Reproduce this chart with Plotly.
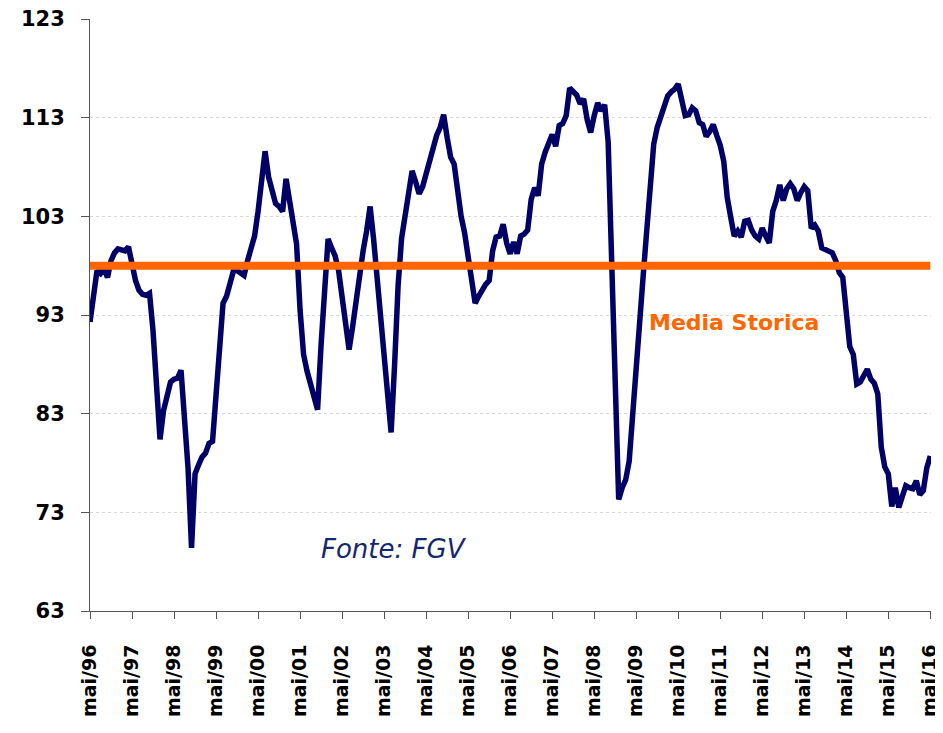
import plotly.graph_objects as go

# Monthly index values, May/1996 .. May/2016
confidence = [
    92.3, 95.0, 97.5, 97.2, 97.7, 96.8, 98.5, 99.3, 99.7, 99.6, 99.5, 99.9,
    98.1, 96.5, 95.5, 95.1, 95.0, 95.2, 91.4, 86.3, 80.4, 83.3, 85.0, 86.2,
    86.5, 86.6, 87.4, 82.5, 77.5, 69.4, 76.9, 77.8, 78.6, 79.0, 80.0, 80.2,
    85.5, 90.5, 94.2, 94.9, 96.0, 97.5, 97.5, 97.2, 97.0, 98.5, 100.0, 101.0,
    103.5, 106.5, 109.6, 107.0, 105.5, 104.3, 104.0, 103.5, 106.8, 104.5, 102.5, 100.2,
    93.5, 89.0, 87.3, 86.0, 84.7, 83.4, 90.0, 96.5, 100.7, 99.8, 99.0, 97.5,
    94.8, 92.0, 89.5, 91.8, 94.5, 97.0, 99.5, 101.5, 104.0, 100.7, 96.5, 92.5,
    88.5, 84.5, 81.1, 88.0, 96.0, 100.8, 102.9, 105.0, 107.6, 106.5, 105.3, 106.0,
    107.3, 108.5, 110.3, 111.2, 112.0, 113.3, 111.0, 109.0, 108.3, 105.3, 103.0, 101.3,
    99.0, 96.8, 94.2, 94.9, 95.6, 96.1, 96.5, 99.5, 100.9, 101.0, 102.2, 100.3,
    99.2, 100.4, 99.2, 101.0, 101.2, 101.6, 104.7, 105.9, 105.1, 108.3, 109.5, 110.6,
    111.3, 110.1, 112.2, 112.4, 113.2, 116.0, 115.6, 115.3, 114.4, 114.9, 112.8, 111.5,
    113.2, 114.5, 113.7, 114.3, 110.5, 99.5, 86.0, 74.3, 75.5, 76.3, 78.2, 82.5,
    87.3, 92.4, 97.0, 101.5, 106.6, 110.3, 112.0, 113.2, 114.0, 115.2, 115.6, 115.9,
    116.4, 115.0, 113.2, 113.3, 114.0, 113.7, 112.5, 112.3, 111.1, 111.6, 112.3, 111.2,
    110.2, 108.6, 104.9, 102.9, 101.0, 101.5, 100.9, 102.5, 102.6, 101.6, 101.0, 100.7,
    101.8, 101.0, 100.3, 103.5, 104.6, 106.2, 104.6, 105.8, 106.3, 105.8, 104.6, 105.4,
    106.0, 105.6, 101.8, 102.1, 101.5, 99.8, 99.6, 99.5, 99.3, 98.5, 97.3, 96.8,
    92.5, 89.8, 89.0, 86.0, 86.2, 86.8, 87.5, 86.5, 86.1, 85.0, 79.6, 77.6,
    76.9, 73.6, 75.5, 73.5, 74.5, 75.7, 75.5, 75.4, 76.2, 74.8, 75.2, 77.5,
    78.7,
]
media_storica = 98.0
tick_years = ["96", "97", "98", "99", "00", "01", "02", "03", "04", "05", "06",
              "07", "08", "09", "10", "11", "12", "13", "14", "15", "16"]
tick_labels = ["mai/" + y for y in tick_years]
y_ticks = [63, 73, 83, 93, 103, 113, 123]

months = list(range(len(confidence)))
tick_pos = [12 * i for i in range(len(tick_labels))]

fig = go.Figure()
fig.add_trace(go.Scatter(
    x=months, y=confidence, mode="lines",
    line=dict(color="#000066", width=5.5), hoverinfo="skip", showlegend=False,
    cliponaxis=False))
fig.add_trace(go.Scatter(
    x=[months[0], months[-1]], y=[media_storica, media_storica], mode="lines",
    line=dict(color="#FF6600", width=8), hoverinfo="skip", showlegend=False,
    cliponaxis=False))

fig.add_annotation(x=159, y=92.2, xref="x", yref="y", text="<b>Media Storica</b>",
                   showarrow=False, xanchor="left", yanchor="middle",
                   font=dict(family="DejaVu Sans", size=22, color="#FF6600"))
fig.add_annotation(x=65.4, y=69.3, xref="x", yref="y", text="<i>Fonte: FGV</i>",
                   showarrow=False, xanchor="left", yanchor="middle",
                   font=dict(family="DejaVu Sans", size=26, color="#14286E"))

fig.update_layout(
    width=943, height=733,
    margin=dict(l=82, r=20, t=11, b=130),
    paper_bgcolor="white", plot_bgcolor="white",
    font=dict(family="DejaVu Sans", color="black"),
)
fig.update_xaxes(
    range=[0, 240.2], tickvals=tick_pos, ticktext=tick_labels, tickangle=-90,
    ticks="outside", ticklen=7, tickcolor="#555555", tickwidth=1,
    showline=True, linecolor="#555555", linewidth=1, showgrid=False, zeroline=False,
    tickfont=dict(family="DejaVu Sans", size=19, color="black", weight="bold"),
    ticklabelstandoff=18, automargin=False, ticklabeloverflow="allow",
)
fig.update_yaxes(
    range=[63, 123], tickvals=y_ticks, ticks="outside", ticklen=8,
    tickcolor="#555555", tickwidth=1,
    showline=True, linecolor="#555555", linewidth=1,
    showgrid=True, gridcolor="#d9d9d9", griddash="dot", gridwidth=1, zeroline=False,
    tickfont=dict(family="DejaVu Sans", size=21, color="black", weight="bold"),
    ticklabelstandoff=12, automargin=False, ticklabeloverflow="allow",
)

fig.write_html("out.html")
